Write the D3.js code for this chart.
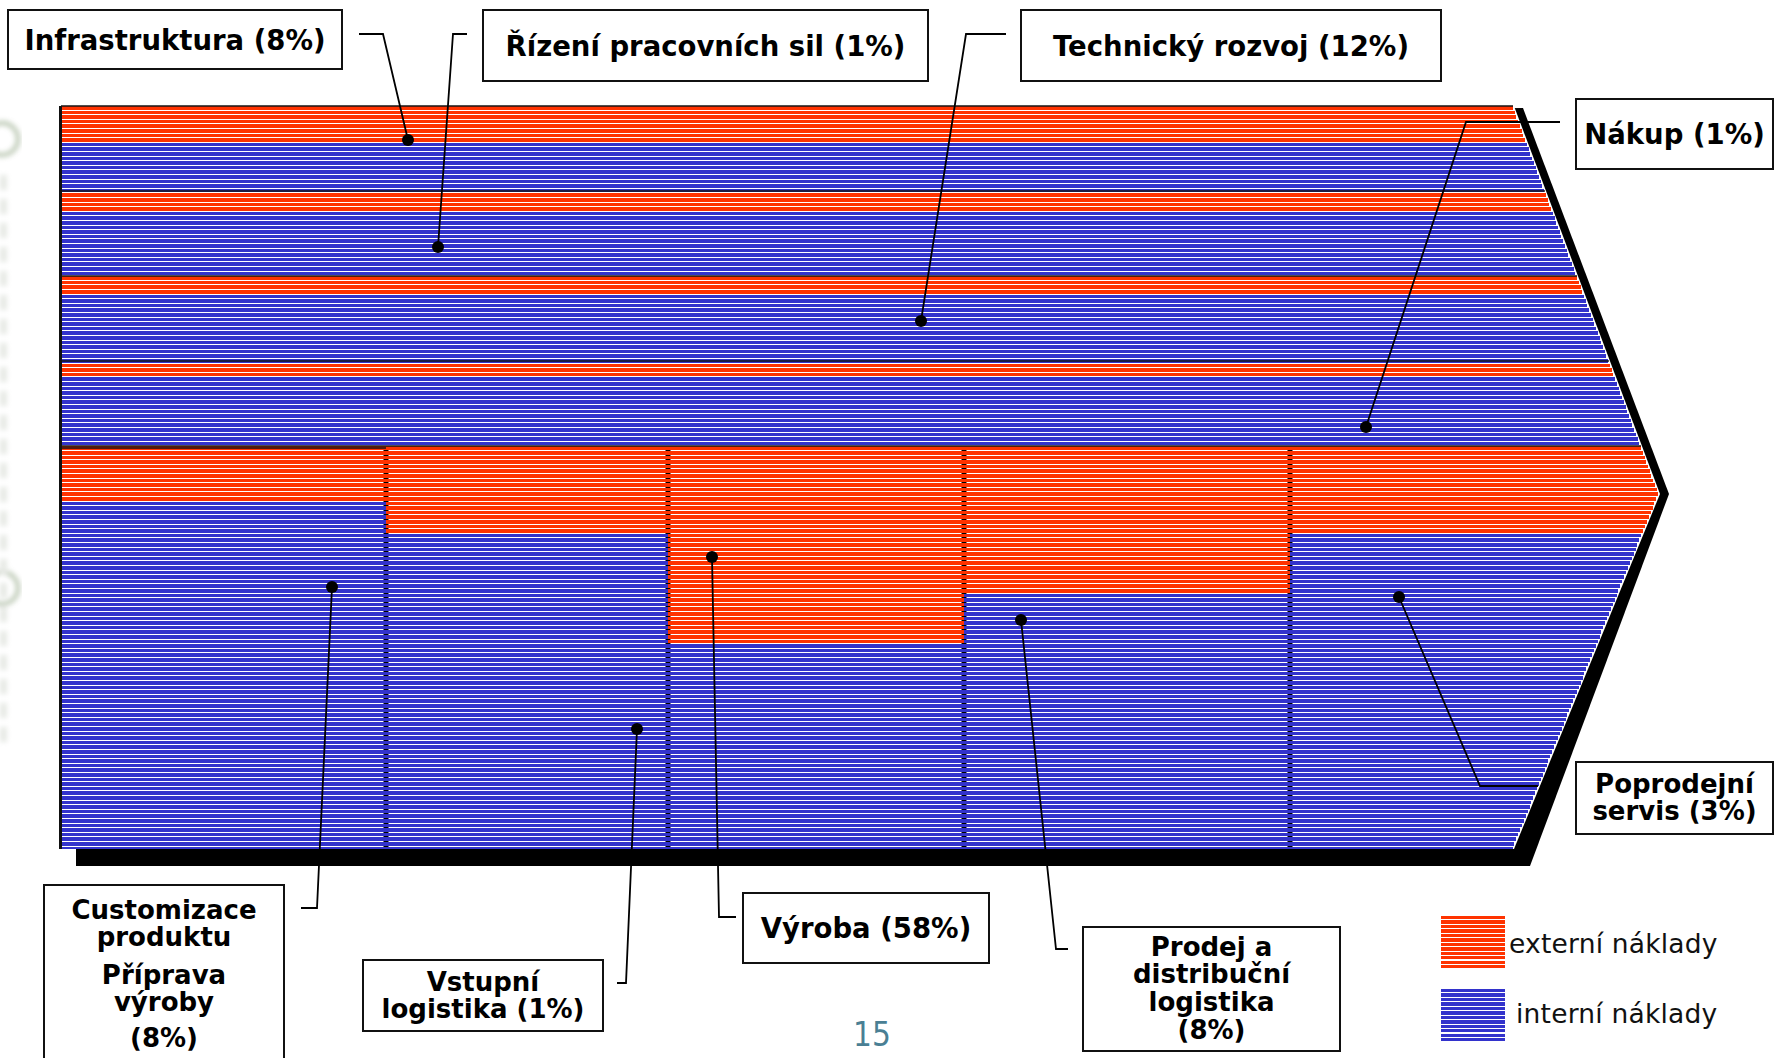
<!DOCTYPE html>
<html lang="cs">
<head>
<meta charset="utf-8">
<title>Hodnotový řetězec – struktura nákladů</title>
<script src="https://cdn.jsdelivr.net/npm/d3@7/dist/d3.min.js"></script>
<style>
  html, body { margin: 0; padding: 0; background: #fff; }
  svg { display: block; }
</style>
</head>
<body>
<div id="chart"></div>
<script>
// ---- data ---------------------------------------------------------------
// Support activities (horizontal bands) – share of total costs and the
// part of each activity's costs that is bought in externally (%).
const supportActivities = ["Infrastruktura", "Řízení pracovních sil", "Technický rozvoj", "Nákup"];
const supportCostShare = [8, 1, 12, 1];
const supportExternalShare = [43, 25, 19, 19];

// Primary activities (columns)
const primaryActivities = ["Customizace produktu, Příprava výroby", "Vstupní logistika", "Výroba",
                           "Prodej a distribuční logistika", "Poprodejní servis"];
const primaryCostShare = [8, 1, 58, 8, 3];
const primaryExternalShare = [13, 21, 49, 36, 21];

const legendLabels = ["externí náklady", "interní náklady"];
const pageNumber = "15";

// ---- layout -------------------------------------------------------------
const W = 1775, H = 1058;
const bodyLeft = 61, bodyTop = 106, bodyBottom = 849, rightX = 1514;
const tipX = 1660, tipY = 494;
const supportBottom = 446, primaryTop = 448;
const columnEdges = [61, 386, 668, 964, 1290];   // left edge of each primary column
const pitch = 4.6, gap = 1.1;                       // stripe pattern
const RED = "#ff3300", BLUE = "#3333cc";
const FONT = "'DejaVu Sans', Verdana, sans-serif";

const svg = d3.select("#chart").append("svg")
  .attr("width", W).attr("height", H).attr("viewBox", `0 0 ${W} ${H}`);

const defs = svg.append("defs");
defs.append("filter").attr("id", "soft").append("feGaussianBlur").attr("stdDeviation", 2.5);

// faint slide decoration along the left margin
const deco = svg.append("g").attr("filter", "url(#soft)").attr("opacity", 0.4);
deco.append("circle").attr("cx", 2).attr("cy", 139).attr("r", 16)
  .attr("fill", "none").attr("stroke", "#6f8a5e").attr("stroke-width", 5);
deco.append("circle").attr("cx", 2).attr("cy", 588).attr("r", 16)
  .attr("fill", "none").attr("stroke", "#6f8a5e").attr("stroke-width", 5);
deco.selectAll("rect.d").data(d3.range(175, 735, 24)).join("rect")
  .attr("x", 0).attr("y", d => d).attr("width", 7).attr("height", 15)
  .attr("fill", "#c2c9bd");

// ---- scales ---------------------------------------------------------------
const yBand = d3.scaleBand().domain(supportActivities).range([bodyTop, supportBottom]).padding(0);
const yPrimary = d3.scaleLinear().domain([0, 100]).range([primaryTop, bodyBottom]);
const upperEdge = d3.scaleLinear().domain([bodyTop, tipY]).range([rightX, tipX]);
const lowerEdge = d3.scaleLinear().domain([tipY, bodyBottom]).range([tipX, rightX]);
const edgeAt = y => (y <= tipY ? upperEdge(y) : lowerEdge(y));

// ---- shadow and body -------------------------------------------------------
const shadowPts = [[bodyLeft + 15, bodyTop + 17], [rightX + 9, bodyTop + 2], [tipX + 9, tipY],
                   [rightX + 16, bodyBottom + 17], [bodyLeft + 15, bodyBottom + 17]];
svg.append("polygon").attr("points", shadowPts.join(" ")).attr("fill", "#000");

const bodyPts = [[bodyLeft, bodyTop], [rightX, bodyTop], [tipX, tipY], [rightX, bodyBottom], [bodyLeft, bodyBottom]];
svg.append("polygon").attr("points", bodyPts.join(" ")).attr("fill", "#fff");

// left border and column dividers (visible through the stripe gaps)
svg.append("rect").attr("x", bodyLeft - 2).attr("y", bodyTop).attr("width", 3).attr("height", bodyBottom - bodyTop)
  .attr("fill", "#111");
svg.selectAll("rect.divider").data(columnEdges.slice(1)).join("rect")
  .attr("class", "divider")
  .attr("x", d => d - 2.5).attr("y", primaryTop).attr("width", 5).attr("height", bodyBottom - primaryTop)
  .attr("fill", "#000");

// ---- stripes ----------------------------------------------------------------
const segments = [];
const nRows = Math.ceil((bodyBottom - bodyTop) / pitch);
for (let k = 0; k < nRows; k++) {
  const y = bodyTop + k * pitch;
  const h = Math.min(pitch - gap, bodyBottom - y);
  if (h <= 0.3) continue;
  const yc = y + h / 2;
  const xEnd = Math.min(edgeAt(y), edgeAt(y + h)) - 1;
  if (yc < supportBottom) {
    const act = supportActivities.find(a => yc >= yBand(a) && yc < yBand(a) + yBand.bandwidth());
    if (!act) continue;
    const i = supportActivities.indexOf(act);
    const split = d3.scaleLinear().domain([0, 100])
      .range([yBand(act), yBand(act) + yBand.bandwidth()])(supportExternalShare[i]);
    segments.push({ x0: bodyLeft + 1, x1: xEnd, y, h, c: yc < split ? RED : BLUE });
  } else if (yc >= primaryTop) {
    primaryActivities.forEach((p, j) => {
      const x0 = columnEdges[j] + (j === 0 ? 1 : 0);
      const x1 = j < columnEdges.length - 1 ? columnEdges[j + 1] : xEnd;
      const split = yPrimary(primaryExternalShare[j]);
      segments.push({ x0, x1: Math.min(x1, xEnd), y, h, c: yc < split ? RED : BLUE });
    });
  }
}
svg.append("g").selectAll("rect").data(segments).join("rect")
  .attr("x", d => d.x0).attr("y", d => d.y)
  .attr("width", d => Math.max(0, d.x1 - d.x0)).attr("height", d => d.h)
  .attr("fill", d => d.c).attr("shape-rendering", "crispEdges");

// band separators
const sepY = supportActivities.map(a => yBand(a)).concat([supportBottom]);
svg.append("g").selectAll("line").data(sepY).join("line")
  .attr("x1", bodyLeft).attr("x2", d => edgeAt(d) - 1)
  .attr("y1", d => d).attr("y2", d => d)
  .attr("stroke", "#151515").attr("stroke-width", 1.6);
svg.append("line")
  .attr("x1", bodyLeft).attr("x2", columnEdges[1])
  .attr("y1", primaryTop).attr("y2", primaryTop)
  .attr("stroke", "#151515").attr("stroke-width", 1.4);

// ---- callouts ----------------------------------------------------------------
// each callout: text lines, box [x, y, w, h], line centres, leader polyline (ends at the dot)
const callouts = [
  { lines: [`${supportActivities[0]} (${supportCostShare[0]}%)`], box: [8, 10, 334, 59], ty: [40],
    leader: [[359, 34], [383, 34], [408, 140]] },
  { lines: [`${supportActivities[1]} (${supportCostShare[1]}%)`], box: [483, 10, 445, 71], ty: [46],
    leader: [[467, 34], [453, 34], [438, 247]] },
  { lines: [`${supportActivities[2]} (${supportCostShare[2]}%)`], box: [1021, 10, 420, 71], ty: [46],
    leader: [[1006, 34], [966, 34], [921, 321]] },
  { lines: [`${supportActivities[3]} (${supportCostShare[3]}%)`], box: [1576, 99, 197, 70], ty: [134],
    leader: [[1560, 122], [1466, 122], [1366, 427]] },
  { lines: ["Poprodejní", `servis (${primaryCostShare[4]}%)`], box: [1576, 762, 197, 72], ty: [784, 811],
    leader: [[1538, 786], [1480, 786], [1399, 597]] },
  { lines: ["Customizace", "produktu", "Příprava", "výroby", `(${primaryCostShare[0]}%)`],
    box: [44, 885, 240, 190], ty: [910, 937, 975, 1002, 1038],
    leader: [[301, 908], [317, 908], [332, 587]] },
  { lines: ["Vstupní", `logistika (${primaryCostShare[1]}%)`], box: [363, 960, 240, 71], ty: [982, 1009],
    leader: [[617, 983], [626, 983], [637, 729]] },
  { lines: [`${primaryActivities[2]} (${primaryCostShare[2]}%)`], box: [743, 893, 246, 70], ty: [928],
    leader: [[736, 917], [719, 917], [712, 557]] },
  { lines: ["Prodej a", "distribuční", "logistika", `(${primaryCostShare[3]}%)`], box: [1083, 927, 257, 124],
    ty: [947, 974, 1002, 1030], leader: [[1068, 949], [1056, 949], [1021, 620]] }
];

const lineGen = d3.line();
const cg = svg.append("g");
cg.selectAll("path.leader").data(callouts).join("path")
  .attr("class", "leader")
  .attr("d", d => lineGen(d.leader))
  .attr("fill", "none").attr("stroke", "#000").attr("stroke-width", 1.8);
cg.selectAll("circle.dot").data(callouts).join("circle")
  .attr("class", "dot")
  .attr("cx", d => d.leader[2][0]).attr("cy", d => d.leader[2][1]).attr("r", 6)
  .attr("fill", "#000");

const boxes = cg.selectAll("g.box").data(callouts).join("g").attr("class", "box");
boxes.append("rect")
  .attr("x", d => d.box[0]).attr("y", d => d.box[1])
  .attr("width", d => d.box[2]).attr("height", d => d.box[3])
  .attr("fill", "#fff").attr("stroke", "#111").attr("stroke-width", 2);
// one text element per box, one tspan per line; stacked labels are set a touch smaller
boxes.append("text")
  .attr("text-anchor", "middle")
  .attr("font-family", FONT).attr("font-weight", "bold")
  .attr("font-size", d => (d.lines.length > 1 ? 26 : 27.5))
  .attr("fill", "#000")
  .each(function (d) {
    const t = d3.select(this);
    const size = d.lines.length > 1 ? 26 : 27.5;
    const cx = d.box[0] + d.box[2] / 2;
    d.lines.forEach((line, i) => {
      t.append("tspan")
        .attr("x", cx)
        .attr("y", d.ty[i] + size * 0.36)
        .text(line);
    });
  });

// ---- legend -------------------------------------------------------------------
const legend = svg.append("g");
const legendItems = [
  { label: legendLabels[0], color: RED, y: 916, tx: 1509, ty: 943 },
  { label: legendLabels[1], color: BLUE, y: 989, tx: 1516, ty: 1013 }
];
legendItems.forEach(it => {
  const rows = d3.range(0, 53, 4.45);
  legend.append("g").selectAll("rect").data(rows).join("rect")
    .attr("x", 1441).attr("y", r => it.y + r).attr("width", 64).attr("height", 3.4)
    .attr("fill", it.color).attr("shape-rendering", "crispEdges");
  legend.append("text")
    .attr("x", it.tx).attr("y", it.ty).attr("dominant-baseline", "central")
    .attr("font-family", FONT).attr("font-size", 26.5).attr("letter-spacing", 0.2).attr("fill", "#111")
    .text(it.label);
});

// page number
svg.append("text")
  .attr("x", 872).attr("y", 1034).attr("text-anchor", "middle").attr("dominant-baseline", "central")
  .attr("font-family", "'Liberation Sans Narrow', 'DejaVu Sans Condensed', sans-serif")
  .attr("font-size", 33).attr("fill", "#4a7f94")
  .text(pageNumber);
</script>
</body>
</html>
